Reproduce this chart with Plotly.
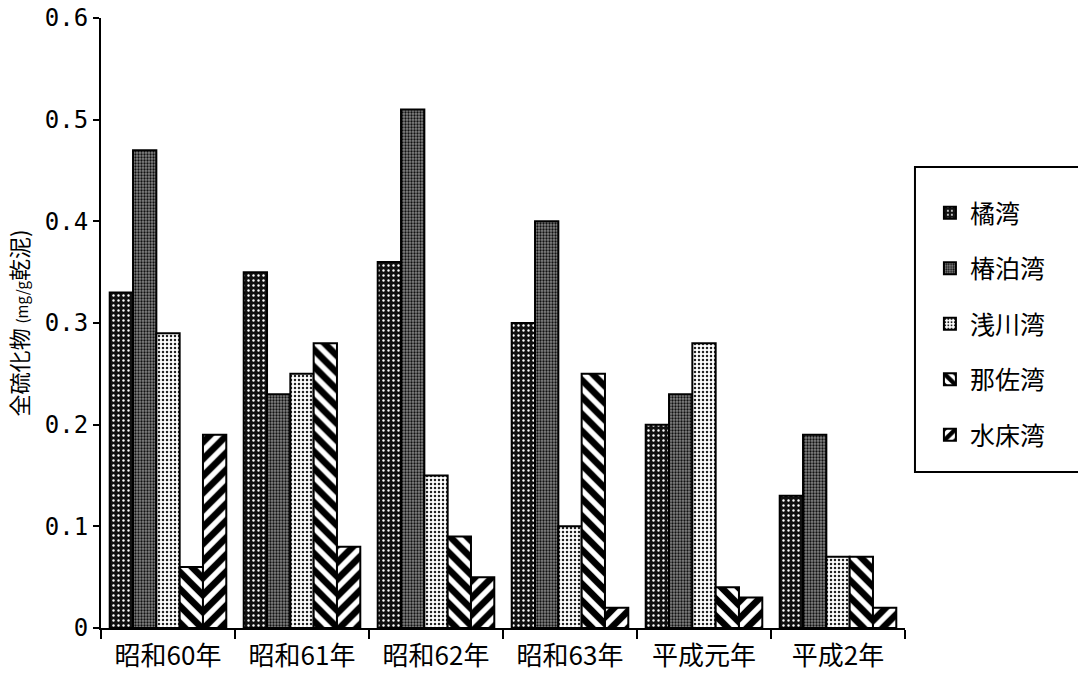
import plotly.graph_objects as go

categories = ["昭和60年", "昭和61年", "昭和62年", "昭和63年", "平成元年", "平成2年"]
series_names = ["橘湾", "椿泊湾", "浅川湾", "那佐湾", "水床湾"]
tachibana = [0.33, 0.35, 0.36, 0.30, 0.20, 0.13]
tsubakidomari = [0.47, 0.23, 0.51, 0.40, 0.23, 0.19]
asakawa = [0.29, 0.25, 0.15, 0.10, 0.28, 0.07]
nasa = [0.06, 0.28, 0.09, 0.25, 0.04, 0.07]
mizutoko = [0.19, 0.08, 0.05, 0.02, 0.03, 0.02]
y_ticks = [0, 0.1, 0.2, 0.3, 0.4, 0.5, 0.6]
y_tick_labels = ["0", "0.1", "0.2", "0.3", "0.4", "0.5", "0.6"]

values = [tachibana, tsubakidomari, asakawa, nasa, mizutoko]
patterns = [
    dict(shape=".", bgcolor="#111111", fgcolor="#ffffff", size=5, solidity=0.18, fgopacity=1),
    dict(shape=".", bgcolor="#858585", fgcolor="#111111", size=3, solidity=0.45, fgopacity=1),
    dict(shape=".", bgcolor="#ffffff", fgcolor="#222222", size=4, solidity=0.3, fgopacity=1),
    dict(shape="\\", bgcolor="#ffffff", fgcolor="#000000", size=12, solidity=0.55, fgopacity=1),
    dict(shape="/", bgcolor="#ffffff", fgcolor="#000000", size=12, solidity=0.55, fgopacity=1),
]

fig = go.Figure()
for i, (name, vals, pat) in enumerate(zip(series_names, values, patterns)):
    fig.add_trace(go.Bar(
        x=categories, y=vals, name=name, legendgroup=str(i),
        marker=dict(color=pat["bgcolor"], pattern=pat,
                    line=dict(color="black", width=2)),
    ))

# legend frame (runs off the right edge, as in the original)
fig.add_shape(type="rect", xref="paper", yref="paper",
              x0=1.0124, x1=1.3, y0=0.2557, y1=0.7557,
              line=dict(color="black", width=2), fillcolor="rgba(0,0,0,0)")

fig.update_layout(
    width=1078, height=680,
    paper_bgcolor="white", plot_bgcolor="white",
    margin=dict(l=101, r=173, t=18, b=52, autoexpand=False),
    barmode="group", bargap=0.13, bargroupgap=0,
    font=dict(family="Noto Sans CJK JP", color="black"),
    showlegend=True,
    legend=dict(
        x=1.031, y=0.718, xanchor="left", yanchor="top",
        borderwidth=0, bgcolor="rgba(0,0,0,0)",
        font=dict(size=25, family="Noto Sans CJK JP"),
        traceorder="grouped", tracegroupgap=20,
    ),
    xaxis=dict(
        showline=True, linecolor="black", linewidth=2,
        ticks="outside", tickson="boundaries", ticklen=9, tickcolor="black", tickwidth=1.5,
        tickfont=dict(size=26, family="Noto Sans CJK JP"),
        ticklabelstandoff=4,
        showgrid=False,
    ),
    yaxis=dict(
        range=[0, 0.6], tickvals=y_ticks, ticktext=y_tick_labels,
        showline=True, linecolor="black", linewidth=2,
        ticks="outside", ticklen=6, tickcolor="black", tickwidth=1.5,
        tickfont=dict(size=24, family="DejaVu Sans Mono"),
        showgrid=False, zeroline=False,
        title=dict(text="全硫化物 <span style='font-size:15px'>(mg/g</span>乾泥)",
                   font=dict(size=22, family="Noto Sans CJK JP"), standoff=10),
    ),
)

fig.write_html("out.html", config={"displayModeBar": False},
               post_script="document.body.style.margin='0';")
